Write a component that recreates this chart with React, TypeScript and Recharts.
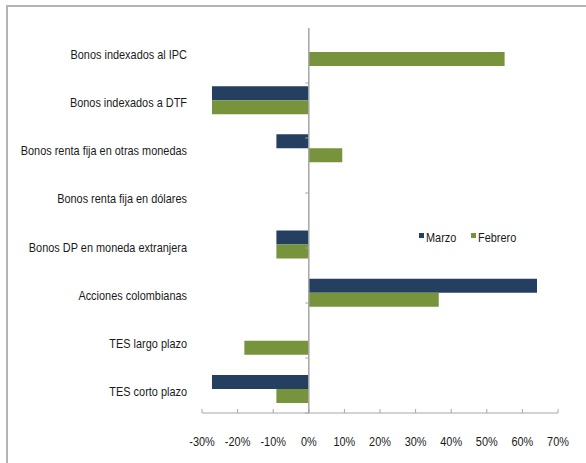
import React from 'react';
import { BarChart, Bar, XAxis, YAxis, ReferenceLine, Legend } from 'recharts';

const CATEGORIES = [
  'Bonos indexados al IPC',
  'Bonos indexados a DTF',
  'Bonos renta fija en otras monedas',
  'Bonos renta fija en dólares',
  'Bonos DP en moneda extranjera',
  'Acciones colombianas',
  'TES largo plazo',
  'TES corto plazo',
];
const MARZO = [0, -27.2, -9.1, 0, -9.1, 64.1, 0, -27.2];
const FEBRERO = [55.0, -27.2, 9.4, 0, -9.1, 36.5, -18.1, -9.1];
const X_TICKS = [-30, -20, -10, 0, 10, 20, 30, 40, 50, 60, 70];
const SERIES_ORDER = ['Marzo', 'Febrero'];
// category band edges, used for the little ticks on the zero line
const BAND_EDGES = [1, 2, 3, 4, 5, 6, 7, 8];

// no narrow font installed, so squeeze Liberation Sans horizontally
const FONT = "'Liberation Sans', Arial, sans-serif";
const SQUEEZE = 0.84;
const TEXT = '#1a1a1a';
const AXIS_GREY = '#a6a6a6';
const NAVY = '#243f60';
const OLIVE = '#77933c';

const chartData = CATEGORIES.map((name, i) => ({ name, marzo: MARZO[i], febrero: FEBRERO[i] }));

const NarrowText = ({ x, y, anchor, children }: any) => (
  <g transform={`translate(${x},${y}) scale(${SQUEEZE},1)`}>
    <text x={0} y={0} textAnchor={anchor} fontSize={13} fontFamily={FONT} fill={TEXT}>
      {children}
    </text>
  </g>
);

const PercentTick = (props: any) => {
  const { x, y, payload } = props;
  return (
    <g>
      <line x1={x} x2={x} y1={y} y2={y - 4} stroke={AXIS_GREY} />
      <NarrowText x={x} y={y + 33} anchor="middle">{`${payload.value}%`}</NarrowText>
    </g>
  );
};

const CategoryTick = (props: any) => {
  const { x, y, payload } = props;
  return <NarrowText x={x} y={y + 7} anchor="end">{payload.value}</NarrowText>;
};

const LegendBox = (props: any) => {
  const items = [...(props.payload || [])].sort(
    (a: any, b: any) => SERIES_ORDER.indexOf(a.value) - SERIES_ORDER.indexOf(b.value)
  );
  return (
    <svg width={130} height={20} style={{ display: 'block' }}>
      {items.map((entry: any, i: number) => (
        <g key={entry.value} transform={`translate(${i * 52},0)`}>
          <rect x={0} y={5} width={5} height={5} fill={entry.color} />
          <NarrowText x={7} y={13.5} anchor="start">{entry.value}</NarrowText>
        </g>
      ))}
    </svg>
  );
};

export default function App() {
  return (
    <div style={{ position: 'fixed', left: 0, top: 0, width: 586, height: 463, overflow: 'hidden', background: '#fff' }}>
      <div
        style={{
          position: 'absolute',
          left: 6,
          top: 5,
          width: 700,
          height: 700,
          border: '2px solid #b4b4b4',
          boxSizing: 'border-box',
        }}
      />
      <div style={{ position: 'absolute', left: 0, top: 0 }}>
        <BarChart
          width={586}
          height={463}
          data={chartData}
          layout="vertical"
          margin={{ top: 28, right: 28, left: 0, bottom: 10 }}
          barCategoryGap="21%"
          barGap={0}
        >
          <XAxis
            type="number"
            domain={[-30, 70]}
            ticks={X_TICKS}
            interval={0}
            height={40}
            tickSize={0}
            tickMargin={0}
            axisLine={{ stroke: AXIS_GREY }}
            tickLine={false}
            tick={<PercentTick />}
          />
          <YAxis
            type="category"
            dataKey="name"
            width={202}
            axisLine={false}
            tickLine={false}
            tickSize={0}
            tickMargin={15}
            interval={0}
            tick={<CategoryTick />}
          />
          <YAxis yAxisId="edges" type="number" domain={[0, 8]} hide />
          <Legend
            layout="horizontal"
            verticalAlign="middle"
            align="center"
            content={<LegendBox />}
            wrapperStyle={{ top: 228, left: 419, width: 130 }}
          />
          <Bar dataKey="marzo" name="Marzo" fill={NAVY} isAnimationActive={false} />
          <Bar dataKey="febrero" name="Febrero" fill={OLIVE} isAnimationActive={false} />
          <ReferenceLine x={0} stroke={AXIS_GREY} strokeWidth={1.5} />
          {BAND_EDGES.map((k) => (
            <ReferenceLine
              key={k}
              yAxisId="edges"
              segment={[{ x: -1, y: k }, { x: 0, y: k }]}
              stroke={AXIS_GREY}
            />
          ))}
        </BarChart>
      </div>
    </div>
  );
}
